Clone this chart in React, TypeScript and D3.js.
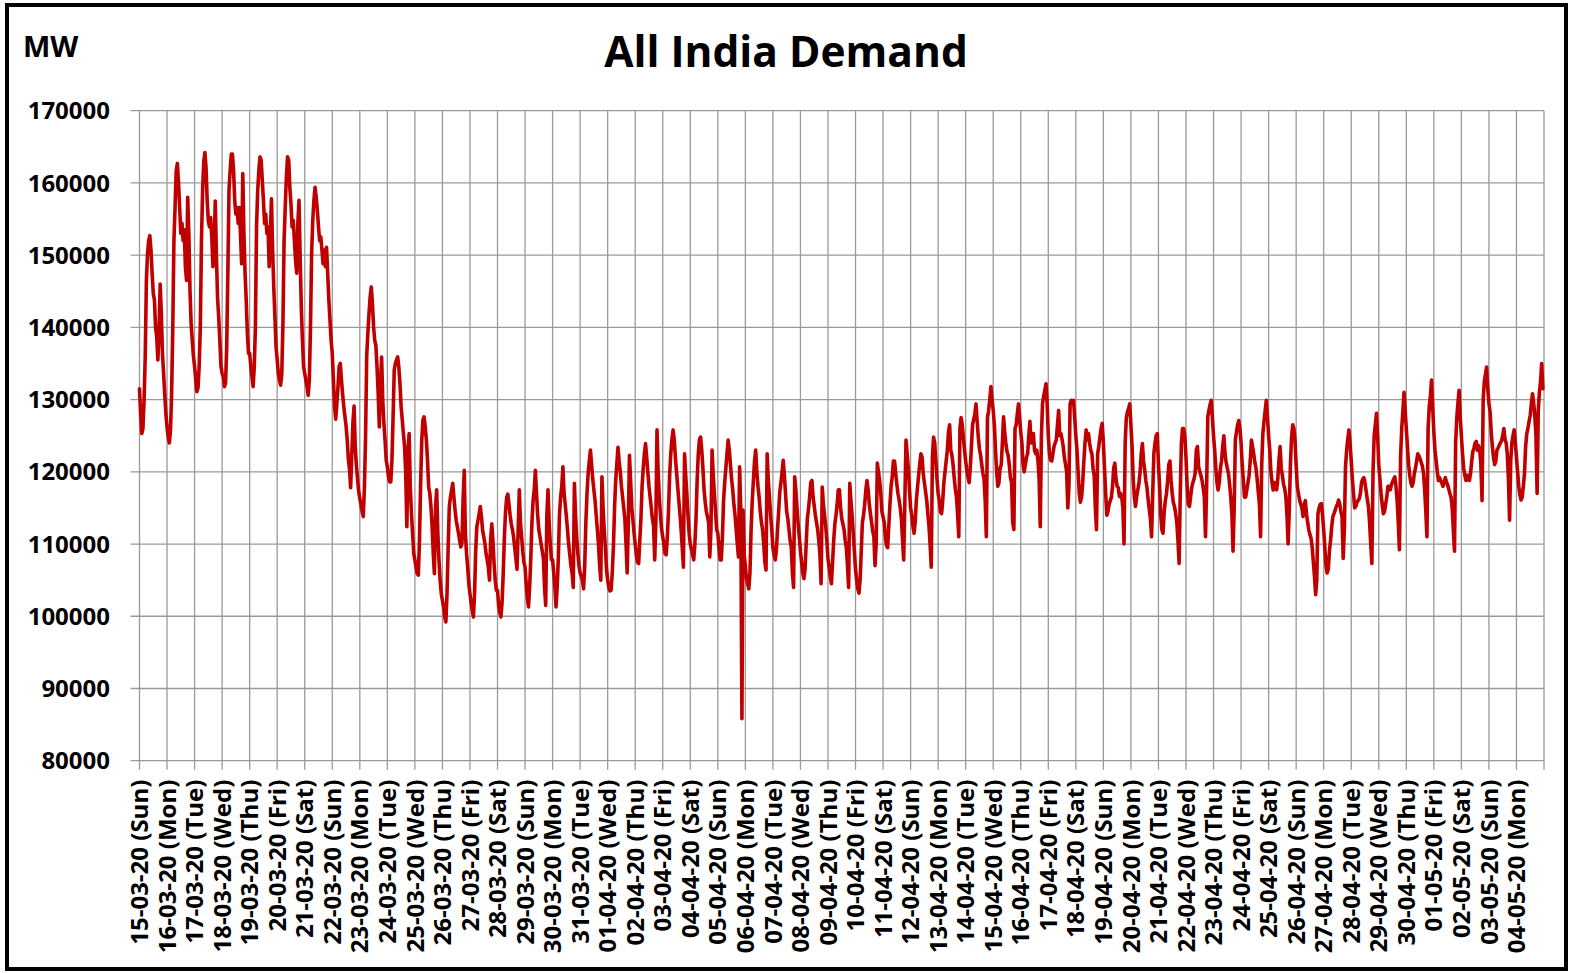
import React from 'react';
import * as d3 from 'd3';

const TITLE = 'All India Demand';
const UNIT_LABEL = 'MW';

const DATE_LABELS = [
  '15-03-20 (Sun)', '16-03-20 (Mon)', '17-03-20 (Tue)', '18-03-20 (Wed)', '19-03-20 (Thu)', '20-03-20 (Fri)',
  '21-03-20 (Sat)', '22-03-20 (Sun)', '23-03-20 (Mon)', '24-03-20 (Tue)', '25-03-20 (Wed)', '26-03-20 (Thu)',
  '27-03-20 (Fri)', '28-03-20 (Sat)', '29-03-20 (Sun)', '30-03-20 (Mon)', '31-03-20 (Tue)', '01-04-20 (Wed)',
  '02-04-20 (Thu)', '03-04-20 (Fri)', '04-04-20 (Sat)', '05-04-20 (Sun)', '06-04-20 (Mon)', '07-04-20 (Tue)',
  '08-04-20 (Wed)', '09-04-20 (Thu)', '10-04-20 (Fri)', '11-04-20 (Sat)', '12-04-20 (Sun)', '13-04-20 (Mon)',
  '14-04-20 (Tue)', '15-04-20 (Wed)', '16-04-20 (Thu)', '17-04-20 (Fri)', '18-04-20 (Sat)', '19-04-20 (Sun)',
  '20-04-20 (Mon)', '21-04-20 (Tue)', '22-04-20 (Wed)', '23-04-20 (Thu)', '24-04-20 (Fri)', '25-04-20 (Sat)',
  '26-04-20 (Sun)', '27-04-20 (Mon)', '28-04-20 (Tue)', '29-04-20 (Wed)', '30-04-20 (Thu)', '01-05-20 (Fri)',
  '02-05-20 (Sat)', '03-05-20 (Sun)', '04-05-20 (Mon)',
];

const Y_TICKS = [80000, 90000, 100000, 110000, 120000, 130000, 140000, 150000, 160000, 170000];

// Hourly all-India demand (thousand MW), one array per day, hours 00..23
const mar15 = [131.5,128,125.3,126,130,136,146.5,150.2,152,152.7,150.7,147.5,144.7,143.8,140,138.7,135.5,139.2,146,142,136.4,133.6,130.8,128];
const mar16 = [126.2,124.8,124,125.7,130.8,140,152,156.6,161.7,162.7,160,156.6,153,154.4,152,153.5,148.4,146.5,158,153,145.1,140.5,138.2,136];
const mar17 = [134.6,132.8,131.1,131.6,134.6,140,152,158.9,163,164.2,162.1,157.5,154.7,153.9,155.2,152.5,148.4,150.2,157.5,150.2,144.2,141.5,138.2,134.6];
const mar18 = [133.6,133.2,131.8,132.2,137.3,147.5,159,161.7,164,164,161.7,157.5,155.7,156.6,154.4,156.6,153,148.8,161.3,153,147.5,143.8,139.2,136.4];
const mar19 = [136.4,134.6,133.2,131.8,134.5,140,154,158.9,161.7,163.6,163.2,160.4,157.6,154.4,155.7,153,153.9,148.4,153,157.8,150.7,145.6,141.5,137.3];
const mar20 = [135.5,133.6,132.7,132,133.6,140.5,152,156.6,160.8,163.6,163.2,159.4,157.1,153.9,154.8,152,149.3,147.5,154.4,157.6,149.8,142.9,138.2,134.6];
const mar21 = [133.6,132.7,131.8,130.6,132.7,140,150.2,154.8,157.6,159.4,158,156.2,153.9,152,152.5,150.7,148.8,150.7,148.4,151.1,147.5,143.8,141,138.2];
const mar22 = [136.4,132.7,129.1,127.3,129.4,131.8,134.6,135,132.7,130.8,129.1,127.7,126.4,124.5,121.8,120.4,117.8,122.3,126.8,129.1,123.6,120.9,119.1,117.3];
const mar23 = [116.3,115.4,114.5,113.8,117.8,124.7,136,139.2,141.9,144.2,145.6,143.3,140.1,138.2,137.5,134.5,130.9,126.2,132.2,135.9,129.9,126.7,124.4,121.6];
const mar24 = [120.7,119.3,118.6,118.6,121.6,127.6,134.1,135,135.5,135.9,134.5,132.2,129,127.2,125.3,123.5,119.8,112.4,123,125.3,117.9,114.2,111.5,108.7];
const mar25 = [107.8,106.8,105.9,105.7,110.5,118.4,124.4,127.2,127.6,126.2,124.4,121.6,117.9,117,115.2,112.4,108.7,105.9,115.2,117.5,111.5,107.8,105,103.1];
const mar26 = [102.2,101.3,99.9,99.2,103.1,109.6,115.2,116.5,117.5,118.4,116.5,114.7,113.3,112.4,111.5,110.5,109.6,110.1,116.1,120.2,111.5,108.7,106.8,104.5];
const mar27 = [103.1,101.8,100.8,99.9,103.1,109.1,112.4,113.3,114.2,115.2,113.8,111.9,111,110.1,108.7,107.8,106.8,105,110.5,112.8,110.5,107.3,105,103.6];
const mar28 = [103.6,101.5,100.5,99.9,102,106,111,114.5,116.5,116.9,115.5,114,112.8,112,111,109.5,108,106.5,112,117.5,113,111,109,107.5];
const mar29 = [106.8,104.5,102.5,101.3,104,108,113,116,117.5,120.2,117,114,112,111,110,109,108,104,101.5,114,117.5,113,110,107.8];
const mar30 = [107.8,106,104,101.3,104,108,114,116.5,118,120.7,117,115.5,113.8,112,110,108.5,107,106,104,118.4,114,111,108.7,107];
const mar31 = [106,105.5,105,103.8,107,113,117,119.8,121.5,123,121,119,117.5,116,114,112,110,107,105,119.3,115,112,109.5,106.5];
const apr01 = [105,104,103.5,103.6,106,109.6,115,118.8,121.1,123.4,121.5,120,118,116.5,115,113.5,110,106,113,122.3,118.8,115.1,113.3,111.5];
const apr02 = [110,108.5,107.5,107.3,110.5,113.5,118,120.5,122.5,123.9,122,120,118,116.5,115,113.5,112.5,107.8,113,125.8,120,116.5,114,112];
const apr03 = [111,110,108.7,108.5,111,114.5,119.5,122.5,124.5,125.8,124.5,122,120,118,116,114.2,112,109.5,106.8,122.5,119.5,117,114,111.5];
const apr04 = [110,109.3,108.5,107.8,110,113.5,119,122.5,124.5,124.8,123,120.5,117.5,115.8,114.5,113.8,113,108.2,112,123,119.5,117,114.5,112];
const apr05 = [111.5,109.5,107.8,107.8,111,116,118.5,120.5,122.5,124.4,123,121,119,117.5,115.5,114,112,110,108.2,120.7,114.5,85.8,114.7,108.5];
const apr06 = [107,105.2,104.5,103.8,106,112,116,118.8,121.5,123,120,118,116.5,114.5,113,112,110,107.5,106.4,122.5,118.8,116.5,114,112];
const apr07 = [109.5,108.5,107.8,109,112,114.5,117.2,118.5,120,121.6,119.5,117,114.5,113.5,112,110.5,109.6,106,104,119.3,117.5,115,112.8,111];
const apr08 = [109,107.5,106,105.2,106.5,110,113.5,114.8,116.5,118.5,118.8,116.5,115.3,114,113,112,110.5,108.5,104.5,117.9,115.5,114,112.5,110.5];
const apr09 = [108,106.8,105.5,104.5,107.5,110.5,112.8,114,115.5,117.5,117.5,115,113.5,112.8,112,110.5,109.5,107,104,118.4,116,114,111.5,109];
const apr10 = [106.5,105,103.8,103.2,105,109,113,114,115.5,117.5,118.8,117.5,115.5,114.2,113,111.8,111,107,110,121.2,120,118.8,117,114.5];
const apr11 = [113.8,113,111,109.8,109.5,112.5,115.5,118,119.3,121.5,121.5,119.8,118.3,117,116.1,115,113.5,110.5,107.8,116,124.4,122.5,120.5,117.5];
const apr12 = [115,114,112.5,111.5,113,116,117.8,119.5,121.2,122.5,122,119.8,118.5,117.3,116.1,114.3,112.5,110,106.8,122,124.8,124,121.5,119];
const apr13 = [117,116,114.5,114.2,116,118.5,120,121.5,123,125.5,126.5,123,122.3,121,119.2,117.6,116.5,114,111,126,127.5,126.5,124.7,123];
const apr14 = [121.5,120.2,119.3,118.5,120.5,123.5,126.5,127.3,128,129.4,127,124.8,123.2,122.3,121,119.8,119,116,111,127.5,128.5,130,131.8,130];
const apr15 = [128.5,126.5,123,120,118,118.5,120.5,121,124,127.6,125.5,124,122.8,122.3,121,119.2,118.5,113,112,126,126.5,128,129.4,127.5];
const apr16 = [125.5,124,121,120,121,122,122.5,125,127,124,124.5,125.3,123,122.5,123,121.5,119,112.4,125,129.5,130.5,131.3,132.2,129.5];
const apr17 = [125,122.5,121.6,121.5,122.5,123.5,124,124.4,126.5,128.5,125,125.3,124.5,123.5,122,121,120,115,118,129.4,129.9,129.5,129.9,127.5];
const apr18 = [125,123,120,117,115.8,116.5,118.5,121.5,124,125.8,124.4,125.3,124,123,122.5,120.5,119.5,115,112,122.5,123.5,124.8,126,126.7];
const apr19 = [124,120.5,117,114,114.5,115.5,116,116.5,118,120.5,121.2,119,118,117.8,116.6,117,116.5,115,110,124,127.5,128.3,128.8,129.4];
const apr20 = [126.5,123.5,119,116.5,115.2,116.5,117.5,118.4,120,122.5,123.9,121.5,120.3,118.8,117.8,116.2,114.8,113.5,111,117,122.5,124,125,125.3];
const apr21 = [121,118,114,112,111.5,114.5,116,117,118.7,121,121.5,118.8,117,115.7,115.2,114.2,113,110.5,107.3,117,124,126,126,125];
const apr22 = [122,118,115.5,115.2,116.5,117.8,118.5,119,119.8,123,123.5,120.7,120,119.5,118.8,117.8,116.5,111,118,127.6,128.5,129.3,129.9,127.5];
const apr23 = [125,123,120.5,118.5,117.5,118.5,120.5,121.5,123.5,125,122.5,121.3,120.5,119.8,118.3,116.5,114.2,109,115,124.4,125.5,126.5,127.1,126];
const apr24 = [124,121,118.8,116.5,116.5,117.5,118.5,119.5,121.5,124.4,123.5,122.5,121.3,120.5,119,117.2,115.5,111,121,125.3,127,128.5,129.9,127.5];
const apr25 = [125,123,120,118.5,117.5,118.5,118.2,117.5,119,121.5,123.5,120.5,119.5,118.3,117.7,116.6,114,110,114.5,121,124.8,126.5,126,124.4];
const apr26 = [121,118,117,116.1,115.5,115,113.8,115.5,116,114.2,113,112,111.3,110.8,109.5,107.5,105.5,103,105,114.2,115,115.5,115.6,114];
const apr27 = [112,109.5,107,106,106.5,109,110.5,112.4,113.8,114.2,114.7,115.2,115.5,116.1,115.5,114.5,113.8,108,112,120.7,123,124.5,125.8,124];
const apr28 = [121.5,119,117,115,115.2,115.8,116,116.3,117,118.5,119,119.2,118.5,117.3,116.2,115.2,113,110,107.3,120,125,126.5,128.1,125];
const apr29 = [121,119,117,115.5,114.2,114.5,115.5,116.5,118,118,117.5,118.2,118.6,119,119.3,118,116,113,109.2,122,126,128.3,131,128.5];
const apr30 = [126,123.5,121,119.5,118.5,118,118.5,119.8,120.5,121.5,122.5,122.2,121.8,121.3,120.8,119.8,117.5,114.5,111,126,129,130.5,132.7,129];
const may01 = [125.5,123,121.5,120,118.8,119.2,118.8,118.4,118,118.5,119.2,118.6,118.2,117.6,117,116.5,115,112,109,124,127.5,129.5,131.3,127.5];
const may02 = [125,122.5,120.5,119.5,118.8,119.5,119.5,118.8,119.8,121.5,122.8,123.3,124,124.2,123,123.6,123,121,116,130,132.5,133.5,134.5,131.5];
const may03 = [129.5,128.3,125.5,123.5,122,121,121.5,123,123.3,123.7,124,124.3,125,126,124.5,124,122.5,119,113.3,121.5,124,125,125.8,124];
const may04 = [122,120,118,116.8,116.1,116.5,118,119.8,123.5,125.3,126,127,127.8,129.5,130.8,129.5,127.8,125,117,128.5,131,132.5,135,131.5];

const DAILY_SERIES = [
  mar15, mar16, mar17, mar18, mar19, mar20, mar21, mar22, mar23, mar24, mar25, mar26, mar27, mar28, mar29,
  mar30, mar31, apr01, apr02, apr03, apr04, apr05, apr06, apr07, apr08, apr09, apr10, apr11, apr12, apr13,
  apr14, apr15, apr16, apr17, apr18, apr19, apr20, apr21, apr22, apr23, apr24, apr25, apr26, apr27, apr28,
  apr29, apr30, may01, may02, may03, may04,
];
const UNIT = 1000;

const W = 1569;
const H = 973;
const M = { left: 139.5, right: 1544, top: 110.7, bottom: 760.7 };
const FONT = "'Open Sans', 'DejaVu Sans', sans-serif";
const GRID = '#9a9a9a';

export default function App() {
  const nDays = DATE_LABELS.length;
  const x = d3.scaleLinear().domain([0, nDays]).range([M.left, M.right]);
  const y = d3.scaleLinear().domain([Y_TICKS[0], Y_TICKS[Y_TICKS.length - 1]]).range([M.bottom, M.top]);

  const points: { t: number; v: number }[] = [];
  DAILY_SERIES.forEach((day, di) => {
    day.forEach((v, h) => points.push({ t: di + h / day.length, v: v * UNIT }));
  });
  const linePath = d3
    .line<{ t: number; v: number }>()
    .x((d) => x(d.t))
    .y((d) => y(d.v))(points) as string;

  const dayTicks = d3.range(nDays + 1);

  return (
    <svg
      width={W}
      height={H}
      viewBox={`0 0 ${W} ${H}`}
      style={{ position: 'absolute', left: 0, top: 0, display: 'block', background: '#fff' }}
    >
      <rect x={0} y={0} width={W} height={H} fill="#fff" />
      {Y_TICKS.map((t) => (
        <line key={'h' + t} x1={M.left - 9} x2={M.right} y1={y(t)} y2={y(t)} stroke={GRID} strokeWidth={1.3} />
      ))}
      {dayTicks.map((d) => (
        <line key={'v' + d} x1={x(d)} x2={x(d)} y1={M.top} y2={M.bottom + 9} stroke={GRID} strokeWidth={1.3} />
      ))}
      {Y_TICKS.map((t) => (
        <text
          key={'yl' + t}
          x={110}
          y={y(t)}
          dy="0.36em"
          textAnchor="end"
          fontFamily={FONT}
          fontWeight={700}
          fontSize={24}
          fill="#000"
        >
          {String(t)}
        </text>
      ))}
      {DATE_LABELS.map((lab, i) => (
        <text
          key={'xl' + i}
          transform={`translate(${x(i)},${M.bottom + 19}) rotate(-90)`}
          dy="0.36em"
          textAnchor="end"
          fontFamily={FONT}
          fontWeight={700}
          fontSize={24}
          fill="#000"
        >
          {lab}
        </text>
      ))}
      <path d={linePath} fill="none" stroke="#C00000" strokeWidth={3.6} strokeLinejoin="round" strokeLinecap="round" />
      <text x={786} y={67} textAnchor="middle" fontFamily={FONT} fontWeight={700} fontSize={42.5} fill="#000">
        {TITLE}
      </text>
      <text x={23} y={57} fontFamily={FONT} fontWeight={700} fontSize={29} fill="#000">
        {UNIT_LABEL}
      </text>
      <rect x={7} y={5} width={1559} height={964} fill="none" stroke="#000" strokeWidth={4} />
    </svg>
  );
}
